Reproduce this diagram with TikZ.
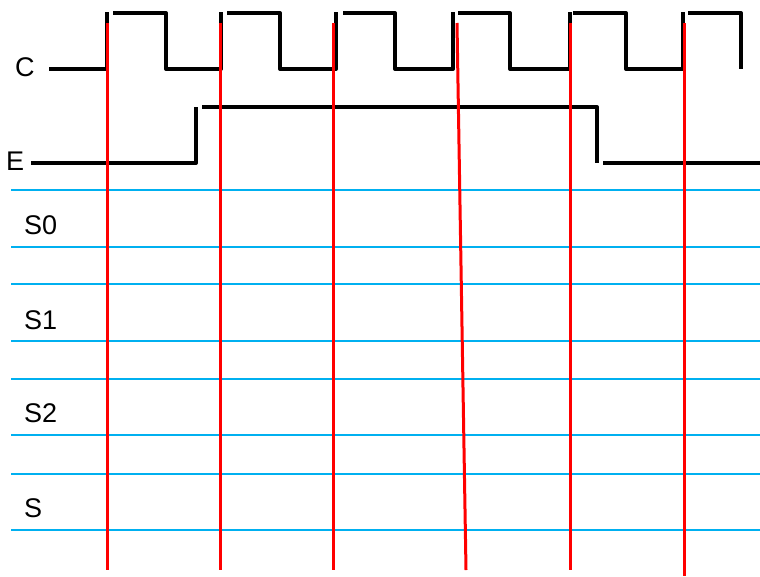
\documentclass[tikz,border=0pt]{standalone}
\usepackage{fontspec}
\setmainfont{Liberation Sans}
\definecolor{gridblue}{RGB}{0,176,240}
\definecolor{markred}{RGB}{255,0,0}
\begin{document}
\begin{tikzpicture}[x=1pt,y=-1pt,
  sig/.style={line width=4pt,black,line join=round},
  gridline/.style={line width=2.4pt,gridblue},
  redmark/.style={line width=3pt,markred},
  lbl/.style={font=\fontsize{27}{29}\selectfont,inner sep=0pt,anchor=west}]
\useasboundingbox[fill=white] (0,0) rectangle (760,576);
% blue grid lines
\foreach \y in {190,247,284,341,379,435,474,530}
  \draw[gridline] (11,\y) -- (760,\y);
% clock C
\draw[sig] (49,69) -| (107,12);
\draw[sig] (113,13) -| (166,69) -| (221,12);
\draw[sig] (227,13) -| (280,69) -| (336,12);
\draw[sig] (343,13) -| (395,69) -| (453,12);
\draw[sig] (458,13) -| (510,69) -| (570,12);
\draw[sig] (573,13) -| (626,69) -| (683,12);
\draw[sig] (688,13) -| (741,69);
% enable E
\draw[sig] (31,163) -| (196,107);
\draw[sig] (202,107) -| (597,163);
\draw[sig] (603,163) -- (760,163);
% red markers
\coordinate (r1t) at (107,23); \coordinate (r1b) at (107,570);
\coordinate (r2t) at (220,23); \coordinate (r2b) at (220,570);
\coordinate (r3t) at (333,23); \coordinate (r3b) at (333,570);
\coordinate (r4t) at (457,23); \coordinate (r4b) at (466,570);
\coordinate (r5t) at (570,23); \coordinate (r5b) at (570,570);
\coordinate (r6t) at (684,23); \coordinate (r6b) at (684,576);
\foreach \i in {1,...,6} \draw[redmark] (r\i t) -- (r\i b);
% labels
\node[lbl] (lc) at (15,67) {C};
\node[lbl] (le) at (6,161) {E};
\node[lbl] (ls0) at (24,225) {S0};
\node[lbl] (ls1) at (24,320) {S1};
\node[lbl] (ls2) at (24,413) {S2};
\node[lbl] (ls) at (24,508) {S};
\end{tikzpicture}
\end{document}
